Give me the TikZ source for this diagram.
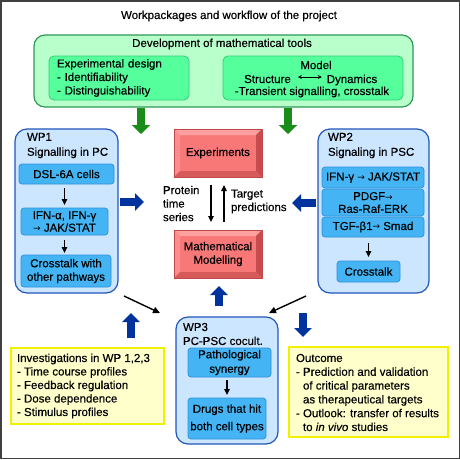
\documentclass[tikz,border=0pt]{standalone}
\usepackage{fontspec}
\setmainfont{Liberation Sans}[FakeBold=0.35]
\newfontfamily\dv{DejaVu Sans}
\usetikzlibrary{arrows.meta,calc}
\definecolor{frame}{HTML}{404040}
\definecolor{gfill}{HTML}{B8FFCC}
\definecolor{gline}{HTML}{2E9955}
\definecolor{ginner}{HTML}{55FF9C}
\definecolor{ginline}{HTML}{33CC77}
\definecolor{bfill}{HTML}{CCE6FF}
\definecolor{bline}{HTML}{2255BB}
\definecolor{binner}{HTML}{44B4F4}
\definecolor{binline}{HTML}{2E90D8}
\definecolor{yfill}{HTML}{FFFFCC}
\definecolor{yline}{HTML}{F0F000}
\definecolor{rface}{HTML}{F87878}
\definecolor{rtop}{HTML}{FFA0A0}
\definecolor{rleft}{HTML}{FF8C8C}
\definecolor{rright}{HTML}{C84C4C}
\definecolor{rbottom}{HTML}{D65A5A}
\definecolor{rline}{HTML}{C04848}
\definecolor{garr}{HTML}{1A8C1A}
\definecolor{barr}{HTML}{00339E}
\newcommand\ar{{\dv\fontsize{9}{9}\selectfont →}}
\newcommand\bevelize[1]{%
 \fill[rtop] (#1.north west) -- (#1.north east) -- ($(#1.north east)+(-6,6)$) -- ($(#1.north west)+(6,6)$) -- cycle;
 \fill[rleft] (#1.north west) -- ($(#1.north west)+(6,6)$) -- ($(#1.south west)+(6,-6)$) -- (#1.south west) -- cycle;
 \fill[rright] (#1.north east) -- ($(#1.north east)+(-6,6)$) -- ($(#1.south east)+(-6,-6)$) -- (#1.south east) -- cycle;
 \fill[rbottom] (#1.south west) -- ($(#1.south west)+(6,-6)$) -- ($(#1.south east)+(-6,-6)$) -- (#1.south east) -- cycle;
 \draw[rline, line width=0.6pt] (#1.north west) rectangle (#1.south east);
}
\begin{document}
\begin{tikzpicture}[x=1pt,y=-1pt, font=\fontsize{11.5}{13.5}\selectfont,
 gouter/.style={draw=gline, fill=gfill, line width=1.2pt, rounded corners=11pt, inner sep=0pt, outer sep=0pt},
 ginbox/.style={draw=ginline, fill=ginner, line width=0.8pt, rounded corners=5pt, inner sep=0pt, outer sep=0pt},
 wpbox/.style={draw=bline, fill=bfill, line width=1.2pt, rounded corners=12pt, inner sep=0pt, outer sep=0pt},
 binbox/.style={draw=binline, fill=binner, line width=0.7pt, rounded corners=3pt, inner sep=0pt, outer sep=0pt, align=center},
 ybox/.style={draw=yline, fill=yfill, line width=1.2pt, inner sep=0pt, outer sep=0pt},
 redbox/.style={fill=rface, minimum width=88pt, minimum height=48pt, inner sep=0pt, outer sep=0pt, align=center},
 garrow/.style={draw=garr, line width=8pt, -{Triangle[width=18pt,length=9pt]}},
 barrow/.style={draw=barr, line width=8pt, -{Triangle[width=17pt,length=9pt]}},
 karrow/.style={draw=black, line width=1.2pt, -{Triangle[width=5.5pt,length=6pt]}},
 darrow/.style={draw=black, line width=1.4pt, -{Triangle[width=6.5pt,length=7pt]}},
 txt/.style={inner sep=0pt, outer sep=0pt, align=left}
]
\useasboundingbox (0,0) rectangle (460,459);
\draw[frame, line width=1.5pt] (0.75,0.75) rectangle (459.25,458.25);

\node[txt] (title) at (229,16) {Workpackages and workflow of the project};

% development of mathematical tools
\node[gouter, minimum width=379pt, minimum height=72pt] (dev) at (223.5,71) {};
\node[txt] (devt) at (222,44) {Development of mathematical tools};
\node[ginbox, minimum width=140pt, minimum height=44pt, text width=124pt, align=left] (expd) at (119,78) {Experimental design\\- Identifiability\\- Distinguishability};
\node[ginbox, minimum width=180pt, minimum height=44pt] (model) at (313,78) {};
\node[txt] (modt) at (316,65) {Model};
\node[txt, anchor=base] (struct) at (267.5,83) {Structure};
\node[txt, anchor=base] (dyn) at (352,83) {Dynamics};
\draw[{Stealth[length=4pt,width=4pt]}-{Stealth[length=4pt,width=4pt]}, line width=0.8pt] ($(struct.base east)+(7,-6)$) -- ($(dyn.base west)+(-5,-6)$);
\node[txt] (trans) at (312,92) {-Transient signalling, crosstalk};

% green arrows
\coordinate (g1s) at (141,108); \coordinate (g1e) at (141,134);
\coordinate (g2s) at (288,108); \coordinate (g2e) at (288,134);
\draw[garrow] (g1s) -- (g1e);
\draw[garrow] (g2s) -- (g2e);

% WP1
\node[wpbox, minimum width=103pt, minimum height=164pt] (wp1) at (66.5,211) {};
\node[txt, anchor=west] (wp1t) at (27,145.5) {WP1\\[1.5pt]Signalling in PC};
\node[binbox, minimum width=95pt, minimum height=20pt] (dsl) at (66.5,174) {DSL-6A cells};
\node[binbox, minimum width=87pt, minimum height=27pt, font=\fontsize{11.5}{12.5}\selectfont] (ifn1) at (64.5,221.5) {IFN-α, IFN-γ\\\ar{} JAK/STAT};
\node[binbox, minimum width=90pt, minimum height=32pt] (cross1) at (66,271) {Crosstalk with\\other pathways};
\draw[karrow, shorten <=4pt, shorten >=3pt] (ifn1.north |- dsl.south) -- (ifn1.north);
\draw[karrow, shorten <=5pt, shorten >=2pt] (ifn1.south) -- (ifn1.south |- cross1.north);

% blue arrow WP1 -> centre
\coordinate (b1s) at (120,202); \coordinate (b1e) at (144,202);
\draw[barrow] (b1s) -- (b1e);

% experiments / modelling
\node[redbox] (exp) at (218,153) {Experiments};
\bevelize{exp}
\node[redbox] (mod) at (218,254) {Mathematical\\Modelling};
\bevelize{mod}
\draw[karrow, shorten <=8pt, shorten >=8pt] ($(exp.south)+(-7,0)$) -- ($(mod.north)+(-7,0)$);
\draw[karrow, shorten <=8pt, shorten >=8pt] ($(mod.north)+(6,0)$) -- ($(exp.south)+(6,0)$);
\node[txt, anchor=west] (prot) at (163,203.5) {Protein\\time\\series};
\node[txt, anchor=west] (targ) at (231,201.5) {Target\\predictions};

% WP2
\node[wpbox, minimum width=111pt, minimum height=164pt] (wp2) at (373.5,211) {};
\node[txt, anchor=west] (wp2t) at (328,145.5) {WP2\\[1.5pt]Signaling in PSC};
\node[binbox, minimum width=102pt, minimum height=21pt] (ifn2) at (373,177.5) {IFN-γ \ar{} JAK/STAT};
\node[binbox, minimum width=102pt, minimum height=27pt, font=\fontsize{11.5}{12.8}\selectfont] (pdgf) at (373,202.5) {PDGF\ar\\Ras-Raf-ERK};
\node[binbox, minimum width=102pt, minimum height=20pt] (tgf) at (373,227) {TGF-β1\ar{} Smad};
\node[binbox, minimum width=63pt, minimum height=21pt] (cross2) at (368.5,271.5) {Crosstalk};
\draw[karrow, shorten <=6pt, shorten >=4pt] (cross2.north |- tgf.south) -- (cross2.north);

% blue arrow WP2 -> centre
\coordinate (b2s) at (316,203); \coordinate (b2e) at (292,203);
\draw[barrow] (b2s) -- (b2e);

% WP3
\node[wpbox, minimum width=102pt, minimum height=127pt] (wp3) at (227,380.5) {};
\node[txt, anchor=west] (wp3t) at (183,334) {WP3\\[0.5pt]PC-PSC cocult.};
\node[binbox, minimum width=83pt, minimum height=29pt] (path) at (229.5,362.5) {Pathological\\[1pt]synergy};
\node[binbox, minimum width=78pt, minimum height=41pt] (drugs) at (227,418.5) {Drugs that hit\\[4pt]both cell types};
\draw[karrow, shorten <=3pt, shorten >=3pt] (drugs.north |- path.south) -- (drugs.north);

% diagonal black arrows to WP3
\coordinate (d1s) at (124,296); \coordinate (d1e) at (160,313);
\coordinate (d2s) at (306,296); \coordinate (d2e) at (269,313);
\draw[darrow] (d1s) -- (d1e);
\draw[darrow] (d2s) -- (d2e);

% blue arrows around WP3
\coordinate (b3s) at (219,306); \coordinate (b3e) at (219,286);
\draw[barrow] (b3s) -- (b3e);
\coordinate (b4s) at (131,338); \coordinate (b4e) at (131,313);
\draw[barrow] (b4s) -- (b4e);
\coordinate (b5s) at (303,313); \coordinate (b5e) at (303,337);
\draw[barrow] (b5s) -- (b5e);

% yellow boxes
\node[ybox, minimum width=153pt, minimum height=76pt] (inv) at (87.5,386) {};
\node[txt, anchor=west] (invt) at (17,386) {Investigations in WP 1,2,3\\- Time course profiles\\- Feedback regulation\\- Dose dependence\\- Stimulus profiles};
\node[ybox, minimum width=159pt, minimum height=90pt] (out) at (368.5,392) {};
\node[txt, anchor=west, font=\fontsize{11.5}{13.8}\selectfont] (outt) at (296,392.5) {Outcome\\- Prediction and validation\\\hspace*{7pt}of critical parameters\\\hspace*{7pt}as therapeutical targets\\- Outlook: transfer of results\\\hspace*{7pt}to \emph{in vivo} studies};
\end{tikzpicture}
\end{document}
